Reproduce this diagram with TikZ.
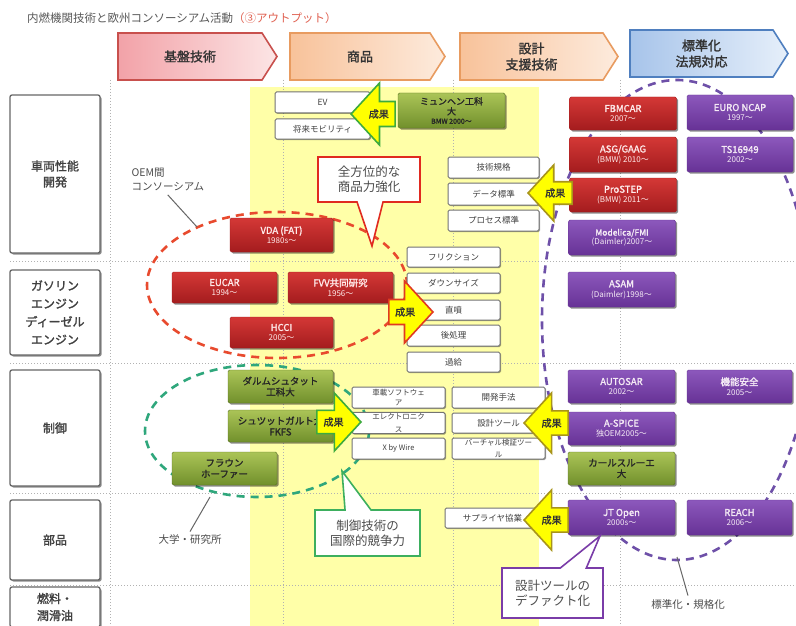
\documentclass[tikz,border=0pt]{standalone}
\usepackage{fontspec}
\setmainfont{Noto Sans CJK JP}[AutoFakeBold=1.6]
\usetikzlibrary{shapes.arrows,shapes.symbols,shapes.callouts,shadows}
\definecolor{hRedL}{HTML}{F2A2A8}
\definecolor{hRedR}{HTML}{FCE5E5}
\definecolor{hRedB}{HTML}{C8504D}
\definecolor{hOrL}{HTML}{F8C29A}
\definecolor{hOrR}{HTML}{FDEBDD}
\definecolor{hOrB}{HTML}{E89B60}
\definecolor{hBlL}{HTML}{A7C4EA}
\definecolor{hBlR}{HTML}{E6EFFA}
\definecolor{hBlB}{HTML}{4F7FBF}
\definecolor{boxRedT}{HTML}{D43836}
\definecolor{boxRedB}{HTML}{A41C1E}
\definecolor{boxPurT}{HTML}{8C58BC}
\definecolor{boxPurB}{HTML}{673296}
\definecolor{boxGrnT}{HTML}{ABC457}
\definecolor{boxGrnB}{HTML}{71902C}
\definecolor{bgYellow}{HTML}{FFFFA8}
\definecolor{dashRed}{HTML}{E84A2E}
\definecolor{dashGreen}{HTML}{2FA77C}
\definecolor{dashPurple}{HTML}{6E50A8}
\definecolor{seikaYellow}{HTML}{FFFF00}
\definecolor{seikaGreen}{HTML}{3DAA3D}
\definecolor{seikaRed}{HTML}{E03A22}
\definecolor{seikaOlive}{HTML}{A8941A}
\definecolor{calloutRed}{HTML}{E02A20}
\definecolor{calloutGreen}{HTML}{3DAF5E}
\definecolor{calloutPurple}{HTML}{7A3CA8}
\definecolor{titleRed}{HTML}{E06050}
\newcommand\sublineX[1]{\\[-1pt]{\mdseries\fontsize{8}{10}\selectfont #1}}
\begin{document}
\begin{tikzpicture}[x=1pt,y=-1pt,
  hdr/.style={signal, signal to=east, signal pointer angle=115, line width=1.6pt,
    minimum height=47pt, inner sep=0pt, align=center,
    font=\bfseries\fontsize{13}{16}\selectfont, text=black!80},
  rowlab/.style={draw=black!60, line width=1.3pt, fill=white, rounded corners=2pt,
    minimum width=90pt, align=center, text=black!75,
    font=\bfseries\fontsize{12}{16}\selectfont,
    drop shadow={shadow xshift=1.5pt, shadow yshift=-1.5pt, opacity=0.45, fill=black}},
  wbox/.style={draw=black!55, line width=1pt, fill=white, rounded corners=1.5pt,
    minimum height=21pt, inner sep=1pt, align=center, text=black!75,
    font=\fontsize{8.5}{9.5}\selectfont,
    drop shadow={shadow xshift=1pt, shadow yshift=-1pt, opacity=0.35, fill=black}},
  cbox/.style={rounded corners=1.5pt, minimum height=33pt, inner sep=1pt, align=center,
    font=\bfseries\fontsize{9.5}{11}\selectfont,
    drop shadow={shadow xshift=1.5pt, shadow yshift=-1.5pt, opacity=0.45, fill=black}},
  redbox/.style={cbox, top color=boxRedT, bottom color=boxRedB, draw=boxRedB, text=white!92!red},
  purbox/.style={cbox, top color=boxPurT, bottom color=boxPurB, draw=boxPurB, text=white!92!violet},
  grnbox/.style={cbox, top color=boxGrnT, bottom color=boxGrnB, draw=boxGrnB!80!black, text=black!85},
  seika/.style={single arrow, draw=#1, fill=seikaYellow, line width=1.6pt,
    minimum height=44pt, single arrow head extend=11pt, single arrow tip angle=95,
    inner sep=2pt, font=\bfseries\fontsize{10}{10}\selectfont, text=black!80},
  callbox/.style={rectangle callout, fill=white, line width=1.6pt, align=center,
    callout pointer width=26pt, font=\fontsize{12.5}{15}\selectfont, text=black!70},
  dashring/.style={line width=2.6pt, dash pattern=on 8pt off 6pt},
  gridline/.style={draw=black!30, line width=1pt, dash pattern=on 1.2pt off 1.8pt},
  note/.style={font=\fontsize{10.5}{14}\selectfont, text=black!70, align=left},
  leader/.style={draw=black!60, line width=1pt}
]
\useasboundingbox (0,0) rectangle (796,626);
\fill[white] (0,0) rectangle (796,626);

% title
\node[anchor=west, inner sep=0pt, font=\fontsize{11.5}{13}\selectfont, text=black!65] (title) at (27,18)
  {内燃機関技術と欧州コンソーシアム活動\textcolor{titleRed}{（③アウトプット）}};

% yellow band
\fill[bgYellow] (250,87) rectangle (539,626);

% grid
\foreach \gx in {110,283,453,620} \draw[gridline] (\gx,80) -- (\gx,626);
\foreach \gy in {261,363,493,585} \draw[gridline] (10,\gy) -- (796,\gy);

% headers
\node[hdr, minimum width=159pt, left color=hRedL, right color=hRedR, draw=hRedB] (h1) at (190,56.5) {基盤技術};
\node[hdr, minimum width=155pt, left color=hOrL, right color=hOrR, draw=hOrB] (h2) at (360,56.5) {商品};
\node[hdr, minimum width=158pt, left color=hOrL, right color=hOrR, draw=hOrB] (h3) at (531.5,56.5) {設計\\支援技術};
\node[hdr, minimum width=158pt, left color=hBlL, right color=hBlR, draw=hBlB] (h4) at (701.5,53.5) {標準化\\法規対応};

% row labels
\node[rowlab, minimum height=158pt] (r1) at (55,174) {車両性能\\開発};
\node[rowlab, minimum height=85pt, font=\bfseries\fontsize{12}{18}\selectfont] (r2) at (55,312.5) {ガソリン\\エンジン\\ディーゼル\\エンジン};
\node[rowlab, minimum height=116pt] (r3) at (55,428) {制御};
\node[rowlab, minimum height=80pt] (r4) at (55,540) {部品};
\node[rowlab, minimum height=40pt, font=\bfseries\fontsize{12}{17}\selectfont] (r5) at (55,607) {燃料・\\潤滑油};

% consortium rings
\draw[dashring, draw=dashRed] (277,285) ellipse [x radius=130pt, y radius=73pt];
\draw[dashring, draw=dashGreen] (257,431) ellipse [x radius=112pt, y radius=66pt];
\draw[dashring, draw=dashPurple] (677,320) ellipse [x radius=135pt, y radius=240pt];

% notes
\node[note, anchor=west] (oem) at (128,180) {OEM間\\コンソーシアム};
\coordinate (oemtip) at (197,227);
\draw[leader] (oem.south) -- (oemtip);
\node[note] (daigaku) at (190,540) {大学・研究所};
\coordinate (daigakutip) at (210,497);
\draw[leader] (daigaku.north) -- (daigakutip);
\node[note] (hyojun) at (688,604) {標準化・規格化};
\coordinate (hyojuntip) at (677,557);
\draw[leader] (hyojun.north) -- (hyojuntip);

% product column
\node[wbox, minimum width=95pt] (ev) at (322.5,102.5) {EV};
\node[wbox, minimum width=95pt, minimum height=20pt] (mob) at (322.5,129) {将来モビリティ};
\node[grnbox, minimum width=107pt, minimum height=35pt, font=\bfseries\fontsize{9}{10}\selectfont] (munchen) at (451.5,110.5)
  {ミュンヘン工科\\大\\[-1pt]{\fontsize{7}{8}\selectfont BMW 2000〜}};

% design support boxes
\node[wbox, minimum width=91pt] (gk) at (493.5,167.5) {技術規格};
\node[wbox, minimum width=91pt, minimum height=22pt] (ds) at (493.5,194) {データ標準};
\node[wbox, minimum width=91pt] (ps) at (493.5,220.5) {プロセス標準};

% engine boxes
\node[wbox, minimum width=93pt, minimum height=20pt] (fric) at (453.5,257) {フリクション};
\node[wbox, minimum width=93pt, minimum height=20pt] (down) at (453.5,283) {ダウンサイズ};
\node[wbox, minimum width=93pt, minimum height=20pt] (choku) at (453.5,310) {直噴};
\node[wbox, minimum width=93pt] (ato) at (453.5,335.5) {後処理};
\node[wbox, minimum width=93pt, minimum height=20pt] (kakyu) at (453.5,362) {過給};

% red consortia
\node[redbox, minimum width=103pt, minimum height=34pt] (vda) at (281.5,235) {VDA (FAT)\sublineX{1980s〜}};
\node[redbox, minimum width=105pt, minimum height=31pt] (eucar) at (224.5,287.5) {EUCAR\sublineX{1994〜}};
\node[redbox, minimum width=105pt, minimum height=31pt] (fvv) at (340.5,287.5) {FVV共同研究\sublineX{1956〜}};
\node[redbox, minimum width=103pt, minimum height=31pt] (hcci) at (281.5,332.5) {HCCI\sublineX{2005〜}};

% control column
\node[grnbox, minimum width=105pt] (darm) at (280.5,386.5) {ダルムシュタット\\工科大};
\node[grnbox, minimum width=105pt, minimum height=32pt] (stutt) at (280.5,426) {シュツットガルト大\\FKFS};
\node[grnbox, minimum width=105pt] (fraun) at (224.5,468.5) {フラウン\\ホーファー};
\node[wbox, minimum width=93pt, font=\fontsize{7.5}{9.5}\selectfont] (soft) at (398.5,397.5) {車載ソフトウェ\\ア};
\node[wbox, minimum width=93pt, minimum height=20pt, font=\fontsize{7.5}{13}\selectfont] (elec) at (398.5,423) {エレクトロニク\\ス};
\node[wbox, minimum width=93pt, font=\fontsize{7.5}{9.5}\selectfont] (xbw) at (398.5,448.5) {X by Wire};
\node[wbox, minimum width=93pt] (kaihatsu) at (498.5,397.5) {開発手法};
\node[wbox, minimum width=93pt, minimum height=20pt] (sekkei) at (498.5,423) {設計ツール};
\node[wbox, minimum width=93pt, font=\fontsize{7.5}{12}\selectfont] (virt) at (498.5,448.5) {バーチャル検証ツー\\ル};
\node[wbox, minimum width=95pt, minimum height=20pt] (supp) at (492.5,518) {サプライヤ協業};

% right column
\node[redbox, minimum width=107pt] (fbmcar) at (623,113.5) {FBMCAR\sublineX{2007〜}};
\node[redbox, minimum width=107pt, minimum height=35pt] (asg) at (623,154.5) {ASG/GAAG\sublineX{(BMW) 2010〜}};
\node[redbox, minimum width=107pt, minimum height=34pt] (prostep) at (623,195) {ProSTEP\sublineX{(BMW) 2011〜}};
\node[purbox, minimum width=107pt, minimum height=35pt, font=\bfseries\fontsize{8.5}{10}\selectfont] (modelica) at (622,237.5) {Modelica/FMI\sublineX{(Daimler)2007〜}};
\node[purbox, minimum width=106pt, minimum height=35pt] (euro) at (740,112.5) {EURO NCAP\sublineX{1997〜}};
\node[purbox, minimum width=106pt, minimum height=35pt] (ts) at (740,154.5) {TS16949\sublineX{2002〜}};
\node[purbox, minimum width=107pt, minimum height=35pt] (asam) at (621.5,289.5) {ASAM\sublineX{(Daimler)1998〜}};
\node[purbox, minimum width=107pt] (autosar) at (621.5,386.5) {AUTOSAR\sublineX{2002〜}};
\node[purbox, minimum width=105pt] (kino) at (739.5,386.5) {機能安全\sublineX{2005〜}};
\node[purbox, minimum width=107pt] (aspice) at (621.5,428.5) {A-SPICE\sublineX{独OEM2005〜}};
\node[grnbox, minimum width=107pt] (karl) at (621.5,468.5) {カールスルーエ\\大};
\node[purbox, minimum width=107pt, minimum height=35pt] (jt) at (621.5,517.5) {JT Open\sublineX{2000s〜}};
\node[purbox, minimum width=105pt, minimum height=35pt] (reach) at (739.5,517.5) {REACH\sublineX{2006〜}};

% result arrows
\node[seika=seikaGreen, shape border rotate=180, minimum width=62pt, anchor=tip] (a1) at (350,114) {成果};
\node[seika=seikaRed, minimum width=62pt, anchor=tip] (a2) at (434,312) {成果};
\node[seika=seikaGreen, minimum width=58pt, anchor=tip] (a3) at (362,422) {成果};
\node[seika=seikaOlive, shape border rotate=180, minimum width=56pt, anchor=tip] (a4) at (527,193) {成果};
\node[seika=seikaOlive, shape border rotate=180, minimum width=60pt, anchor=tip] (a5) at (523,423) {成果};
\node[seika=seikaOlive, shape border rotate=180, minimum width=60pt, anchor=tip] (a6) at (523,520) {成果};

% callouts
\coordinate (p1) at (372,246);
\coordinate (p2) at (342,471);
\coordinate (p3) at (600,536);
\node[callbox, draw=calloutRed, minimum width=102pt, minimum height=45pt, callout absolute pointer={(p1)}] (c1) at (369,179.5) {全方位的な\\商品力強化};
\node[callbox, draw=calloutGreen, minimum width=105pt, minimum height=46pt, callout absolute pointer={(p2)}] (c2) at (367.5,533) {制御技術の\\国際的競争力};
\node[callbox, draw=calloutPurple, minimum width=101pt, minimum height=50pt, callout absolute pointer={(p3)}] (c3) at (552.5,593) {設計ツールの\\デファクト化};
\end{tikzpicture}
\end{document}
